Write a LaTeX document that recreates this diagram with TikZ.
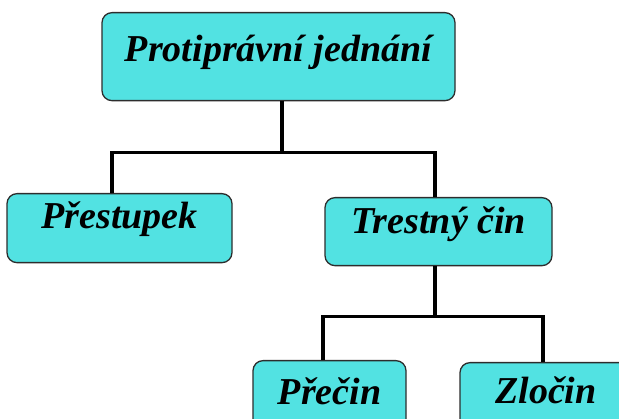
\documentclass[tikz,border=0pt]{standalone}
\usepackage{fontspec}
\setmainfont{Liberation Serif}
\definecolor{boxcyan}{RGB}{82,226,226}
\definecolor{boxrim}{RGB}{45,45,45}
\begin{document}
\begin{tikzpicture}[x=1pt, y=-1pt,
    font=\fontsize{38}{40}\selectfont\bfseries\itshape,
    box/.style={draw=boxrim, line width=1.3pt, fill=boxcyan, rounded corners=10pt, inner sep=0pt, anchor=north},
    link/.style={line width=3.2pt}]
  \clip (0,0) rectangle (619,419);
  % boxes
  \node[box, minimum width=353pt, text height=49pt, text depth=39pt] (delikt) at (278.5,12) {Protiprávní jednání};
  \node[box, minimum width=225pt, text height=35pt, text depth=34pt] (prest) at (119.5,193) {Přestupek};
  \node[box, minimum width=227pt, text height=36pt, text depth=32pt] (cin) at (438.5,197) {Trestný čin};
  \node[box, minimum width=153pt, text height=44pt, text depth=30pt] (precin) at (329.5,360) {Přečin};
  \node[box, minimum width=172pt, text height=41pt, text depth=30pt] (zlocin) at (546,362) {Zločin};
  % connectors
  \draw[link] ([xshift=3.5pt]delikt.south) -- ++(0,51) -| ([xshift=-7.5pt]prest.north);
  \draw[link] ([xshift=3.5pt]delikt.south) -- ++(0,51) -| ([xshift=-3.5pt]cin.north);
  \draw[link] ([xshift=-3.5pt]cin.south) -- ++(0,50) -| ([xshift=-6.5pt]precin.north);
  \draw[link] ([xshift=-3.5pt]cin.south) -- ++(0,50) -| ([xshift=-3pt]zlocin.north);
\end{tikzpicture}
\end{document}
